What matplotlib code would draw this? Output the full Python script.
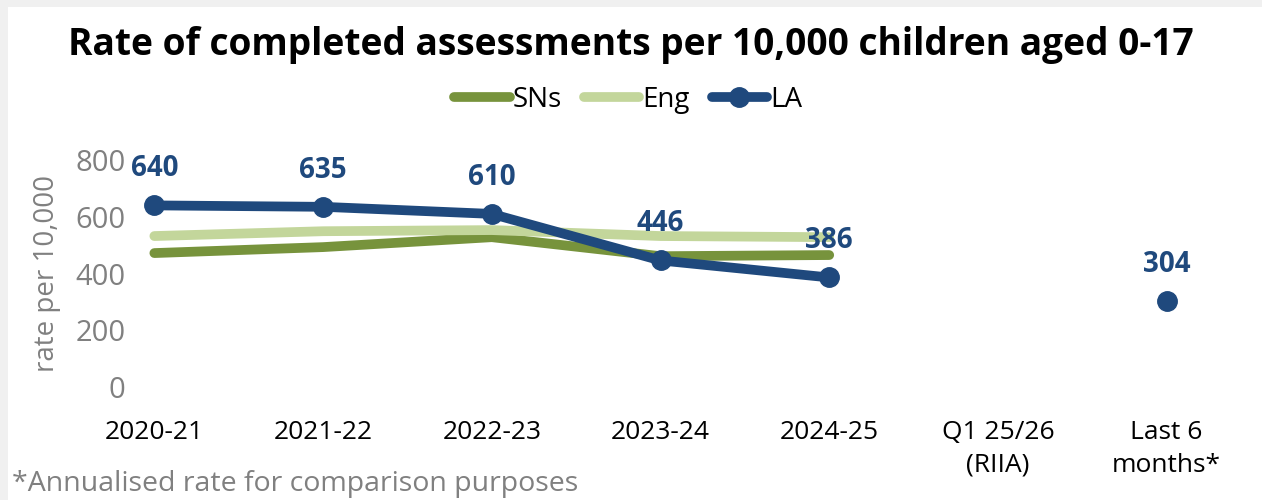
import numpy as np
import matplotlib
matplotlib.use('Agg')
import matplotlib.pyplot as plt
from matplotlib.patches import Rectangle

plt.rcParams['font.family'] = ['Open Sans', 'DejaVu Sans']

#%% data
categories = ['2020-21', '2021-22', '2022-23', '2023-24', '2024-25', 'Q1 25/26\n(RIIA)', 'Last 6\nmonths*']
sns_vals = [472, 493, 528, 461, 465, np.nan, np.nan]
eng_vals = [532, 549, 553, 532, 528, np.nan, np.nan]
la_vals = [640, 635, 610, 446, 386, np.nan, 304]

c_sns = '#77933C'
c_eng = '#C3D69B'
c_la = '#1F497D'

#%% plot
W, H = 1262, 500
fig = plt.figure(figsize=(W / 100, H / 100), dpi=100)
fig.patch.set_facecolor('#f0f0f0')
fig.patches.append(Rectangle((8 / W, 0), 1, 1 - 7 / H, transform=fig.transFigure,
                             fc='white', ec='none', zorder=-1))

ax = fig.add_axes([70 / W, 1 - 387 / H, 1181 / W, 227 / H])
ax.set_facecolor('none')

x = np.arange(len(categories))
ax.plot(x, sns_vals, color=c_sns, lw=7, solid_capstyle='round', label='SNs')
ax.plot(x, eng_vals, color=c_eng, lw=7, solid_capstyle='round', label='Eng')
ax.plot(x, la_vals, color=c_la, lw=7, marker='o', ms=14, solid_capstyle='round', label='LA')

for xi, v in zip(x, la_vals):
    if not np.isnan(v):
        ax.annotate(str(int(v)), (xi, v), xytext=(0, 16), textcoords='offset points',
                    ha='center', va='bottom', fontsize=20, fontweight='bold', color=c_la)

ax.set_xlim(-0.5, len(categories) - 0.5)
ax.set_ylim(0, 800)
ax.set_yticks([0, 200, 400, 600, 800])
ax.set_xticks(x)
ax.set_xticklabels(categories, fontsize=19, linespacing=1.4)
ax.tick_params(axis='y', labelsize=21, labelcolor='#808080', length=0, pad=-40)
ax.tick_params(axis='x', length=0, pad=24)
for s in ax.spines.values():
    s.set_visible(False)
ax.set_ylabel('rate per 10,000', fontsize=20, color='#808080')
ax.yaxis.set_label_coords((61 - 70) / 1181, 0.5)

fig.text(0.5, 1 - 45 / H, 'Rate of completed assessments per 10,000 children aged 0-17',
         ha='center', va='center', fontsize=26.7, fontweight='bold')
fig.legend(loc='center', bbox_to_anchor=(628 / W, 1 - 100 / H), ncol=3, frameon=False,
           fontsize=20, handlelength=2.0, handletextpad=0.1, columnspacing=0.8)

fig.text(12 / W, 1 - 484 / H, '*Annualised rate for comparison purposes',
         va='center', fontsize=20.5, color='#808080')

plt.savefig('out.png', dpi=100, facecolor=fig.get_facecolor())
